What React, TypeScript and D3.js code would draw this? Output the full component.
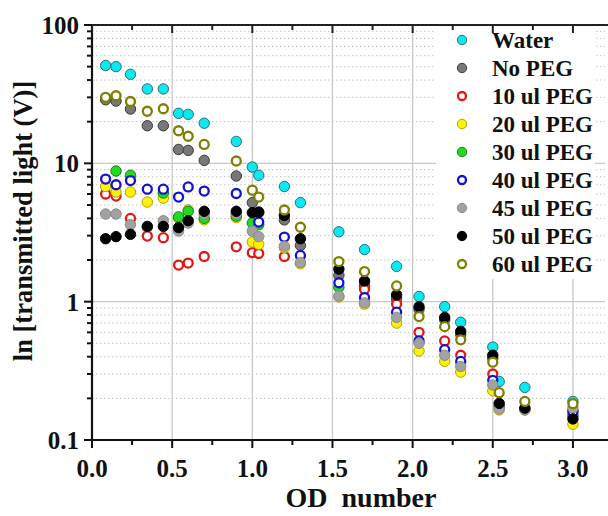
import React from 'react';
import * as d3 from 'd3';

// OD values (x) shared by all series
const odValues = [0.085, 0.15, 0.24, 0.345, 0.445, 0.54, 0.6, 0.7, 0.9, 1.0, 1.04, 1.2, 1.3, 1.54, 1.7, 1.9, 2.04, 2.2, 2.3, 2.5, 2.54, 2.7, 3.0];

// transmitted light (V) per series, null = no point
const water = [51, 50, 44, 34.5, 34.5, 23, 22.6, 19.5, 14.4, 9.4, 8.2, 6.8, 5.2, 3.2, 2.38, 1.8, 1.09, 0.92, 0.71, 0.47, 0.265, 0.24, 0.19];
const noPeg = [28.8, 28.2, 24.7, 18.7, 18.7, 12.6, 12.4, 10.5, 8.1, 5.2, 4.4, 3.9, 2.55, 1.55, 1.3, 1.05, 0.88, 0.74, 0.58, 0.39, 0.175, 0.168, 0.15];
const peg10 = [6.0, 5.8, 4.0, 2.98, 2.9, 1.84, 1.9, 2.12, 2.49, 2.26, 2.23, 2.12, null, null, 1.23, 0.96, 0.6, 0.52, 0.41, 0.3, null, null, 0.163];
const peg20 = [6.8, 6.2, 6.2, 5.25, 5.6, 4.0, 4.6, 3.9, 4.05, 2.7, 2.6, 2.45, 1.88, 1.08, 0.96, 0.7, 0.44, 0.37, 0.31, 0.227, 0.165, 0.165, 0.13];
const peg30 = [null, 8.8, 8.2, null, 6.1, 4.1, 4.5, 4.0, 4.15, 3.7, 3.6, null, null, 1.27, null, null, null, null, null, null, null, null, null];
const peg40 = [7.7, 7.0, 7.5, 6.5, 6.5, 5.7, 6.75, 6.3, 6.05, null, 3.76, 2.93, 2.16, 1.37, 1.07, 0.84, 0.52, 0.45, 0.37, 0.27, null, null, 0.16];
const peg45 = [4.3, 4.3, 3.6, 3.45, 3.85, 3.24, 3.7, 4.3, 4.3, 3.24, 2.95, 2.52, 1.92, 1.1, 0.98, 0.77, 0.5, 0.41, 0.34, 0.25, 0.168, 0.165, 0.17];
const peg50 = [2.85, 2.95, 3.07, 3.5, 3.5, 3.43, 3.85, 4.5, 4.5, 4.4, 4.45, 4.2, 2.85, 1.72, 1.41, 1.12, 0.92, 0.77, 0.61, 0.41, 0.184, 0.17, 0.142];
const peg60 = [30, 30.8, 28, 23.8, 24.8, 17.2, 15.7, 13.7, 10.4, 6.4, 5.7, 4.6, 3.45, 1.95, 1.65, 1.3, 0.78, 0.66, 0.53, 0.365, 0.22, 0.19, 0.183];

const seriesNames = ['Water', 'No PEG', '10 ul PEG', '20 ul PEG', '30 ul PEG', '40 ul PEG', '45 ul PEG', '50 ul PEG', '60 ul PEG'];
const seriesValues = [water, noPeg, peg10, peg20, peg30, peg40, peg45, peg50, peg60];

const xTicks = [0, 0.5, 1.0, 1.5, 2.0, 2.5, 3.0];
const yTicks = [0.1, 1, 10, 100];
const yTickLabels = ['0.1', '1', '10', '100'];

// marker styles: filled or open circle
const markerStyles = [
  { fill: '#0ae8f0', stroke: '#2b6f73', open: false },
  { fill: '#787878', stroke: '#3a3a3a', open: false },
  { fill: '#ffffff', stroke: '#e01818', open: true },
  { fill: '#fff200', stroke: '#b3a300', open: false },
  { fill: '#1edc1e', stroke: '#1d7a1d', open: false },
  { fill: '#ffffff', stroke: '#1212d0', open: true },
  { fill: '#a2a2a2', stroke: '#8a8a8a', open: false },
  { fill: '#000000', stroke: '#000000', open: false },
  { fill: '#ffffff', stroke: '#7f7f00', open: true },
];

const FONT = '"Liberation Serif", "Times New Roman", serif';

const Marker = ({ cx, cy, style, r = 5.2 }) =>
  style.open ? (
    <circle cx={cx} cy={cy} r={r - 0.7} fill={style.fill} stroke={style.stroke} strokeWidth={2.3} />
  ) : (
    <circle cx={cx} cy={cy} r={r} fill={style.fill} stroke={style.stroke} strokeWidth={1} />
  );

export default function App() {
  const width = 608;
  const height = 516;

  const x = d3.scaleLinear().domain([0, 3.2]).range([92, 605]);
  const y = d3.scaleLog().domain([0.1, 100]).range([440, 25]);

  const [x0, x1] = x.range();
  const [yBottom, yTop] = y.range();

  // minor log positions 2..9 in each decade
  const minorY = [];
  [0.1, 1, 10].forEach((d) => {
    for (let k = 2; k <= 9; k++) minorY.push(d * k);
  });
  const minorX = d3.range(0.25, 3.2, 0.5);

  return (
    <svg width={width} height={height} style={{ position: 'absolute', left: 0, top: 0, background: '#fff' }}>
      <rect width={width} height={height} fill="#fff" />

      {/* grid */}
      {minorY.map((v) => (
        <line key={'gy' + v} x1={x0} x2={x1} y1={y(v)} y2={y(v)} stroke="#c4c4c4" strokeWidth={1} strokeDasharray="1.5,2.5" />
      ))}
      {[1, 10].map((v) => (
        <line key={'gd' + v} x1={x0} x2={x1} y1={y(v)} y2={y(v)} stroke="#c8c8c8" strokeWidth={1.3} />
      ))}
      {xTicks.slice(1).map((v) => (
        <line key={'gx' + v} x1={x(v)} x2={x(v)} y1={yTop} y2={yBottom} stroke="#c8c8c8" strokeWidth={1.3} />
      ))}

      {/* points */}
      {seriesValues.map((vals, si) =>
        vals.map((v, i) =>
          v == null ? null : (
            <Marker key={si + '-' + i} cx={x(odValues[i])} cy={y(v)} style={markerStyles[si]} />
          )
        )
      )}

      {/* legend */}
      <rect x={436} y={27} width={159} height={252} fill="#fff" />
      {seriesNames.map((name, i) => (
        <g key={name} transform={`translate(462,${40 + i * 28})`}>
          <Marker cx={0} cy={0} style={markerStyles[i]} r={4.7} />
          <text x={30} y={8} fontFamily={FONT} fontWeight="bold" fontSize={23} fill="#111">
            {name}
          </text>
        </g>
      ))}

      {/* axes frame */}
      <line x1={x0} x2={x1 + 5} y1={yTop} y2={yTop} stroke="#222" strokeWidth={2} />
      <line x1={x0} x2={x1 + 5} y1={yBottom} y2={yBottom} stroke="#111" strokeWidth={2.2} />
      <line x1={x0} x2={x0} y1={yTop} y2={yBottom} stroke="#111" strokeWidth={2.2} />

      {/* x ticks */}
      {xTicks.map((v) => (
        <g key={'xt' + v}>
          <line x1={x(v)} x2={x(v)} y1={yBottom} y2={yBottom + 8} stroke="#111" strokeWidth={2} />
          <line x1={x(v)} x2={x(v)} y1={yTop} y2={yTop + 8} stroke="#222" strokeWidth={2} />
          <text x={x(v)} y={477} textAnchor="middle" fontFamily={FONT} fontWeight="bold" fontSize={25} fill="#111">
            {d3.format('.1f')(v)}
          </text>
        </g>
      ))}
      {minorX.map((v) => (
        <g key={'xm' + v}>
          <line x1={x(v)} x2={x(v)} y1={yBottom} y2={yBottom + 5} stroke="#111" strokeWidth={2} />
          <line x1={x(v)} x2={x(v)} y1={yTop} y2={yTop + 5} stroke="#222" strokeWidth={2} />
        </g>
      ))}

      {/* y ticks */}
      {yTicks.map((v, i) => (
        <g key={'yt' + v}>
          <line x1={x0 - 8} x2={x0} y1={y(v)} y2={y(v)} stroke="#111" strokeWidth={2} />
          <text x={79} y={y(v)} dy="0.36em" textAnchor="end" fontFamily={FONT} fontWeight="bold" fontSize={25} fill="#111">
            {yTickLabels[i]}
          </text>
        </g>
      ))}
      {minorY.map((v) => (
        <line key={'ym' + v} x1={x0 - 5} x2={x0} y1={y(v)} y2={y(v)} stroke="#111" strokeWidth={2} />
      ))}

      {/* axis titles */}
      <text
        transform="translate(32,221) rotate(-90)"
        textAnchor="middle"
        fontFamily={FONT}
        fontWeight="bold"
        fontSize={26.5}
        fill="#111"
      >
        ln [transmitted light (V)]
      </text>
      <text x={361} y={507} textAnchor="middle" fontFamily={FONT} fontWeight="bold" fontSize={28} fill="#111" style={{ whiteSpace: 'pre' }}>
        {'OD\u00a0\u00a0number'}
      </text>
    </svg>
  );
}
